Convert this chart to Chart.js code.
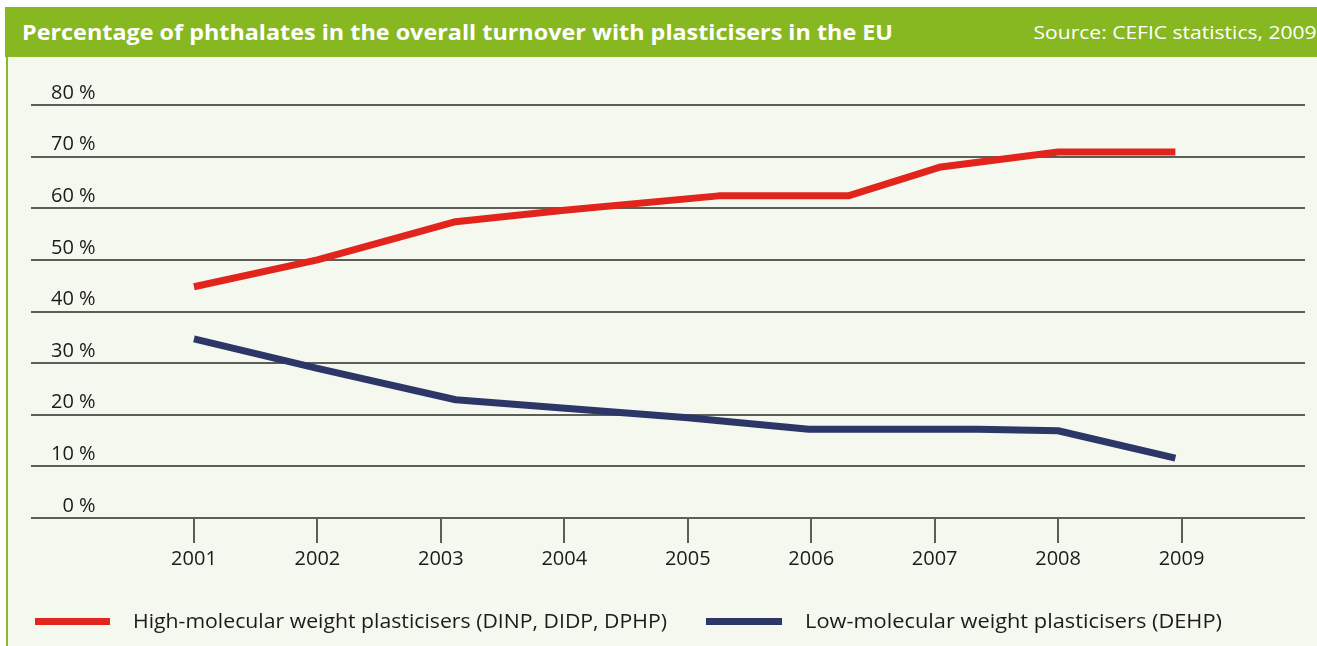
<!DOCTYPE html>
<html>
<head>
<meta charset="utf-8">
<script src="https://cdn.jsdelivr.net/npm/chart.js@4.4.1/dist/chart.umd.min.js"></script>
<style>
  body { margin: 0; background: #fff; width: 1317px; height: 646px; overflow: hidden; position: relative; font-family: "Open Sans", Lato, sans-serif; }
  .panel { position: absolute; left: 8px; top: 57px; right: 0; bottom: 0; background: #f5f8ef; }
  .edge { position: absolute; left: 6px; top: 57px; width: 2px; bottom: 0; background: #8ab929; }
  .header { position: absolute; left: 5px; top: 7px; right: 0; height: 50px; background: #87b822; color: #fff; }
  .header .title { position: absolute; left: 17px; top: 0; line-height: 50px; font-weight: bold; font-size: 21px; white-space: nowrap; transform-origin: left center; }
  .header .source { position: absolute; right: 0; top: 0; line-height: 50px; font-size: 19px; white-space: nowrap; transform-origin: right center; }
  #chart { position: absolute; left: 0; top: 0; }
  .legend { position: absolute; top: 606px; height: 30px; line-height: 30px; font-size: 20px; color: #1b1b1b; white-space: nowrap; }
  .legend .bar { position: absolute; top: 12px; height: 7px; }
  .legend .label { position: absolute; top: 0; transform-origin: left center; }
</style>
</head>
<body>
<div class="panel"></div>
<div class="edge"></div>
<div class="header">
  <div class="title fit" data-w="871">Percentage of phthalates in the overall turnover with plasticisers in the EU</div>
  <div class="source fit" data-w="283">Source: CEFIC statistics, 2009</div>
</div>
<canvas id="chart" width="1317" height="646"></canvas>
<div class="legend" style="left:0;width:1317px">
  <div class="bar" style="left:35px;width:75px;background:#e1251d"></div>
  <div class="label fit" data-w="534" style="left:133px">High-molecular weight plasticisers (DINP, DIDP, DPHP)</div>
  <div class="bar" style="left:706px;width:76px;background:#2c3667"></div>
  <div class="label fit" data-w="417" style="left:805px">Low-molecular weight plasticisers (DEHP)</div>
</div>
<script>
//
// Data
//

var tickYears = [2001, 2002, 2003, 2004, 2005, 2006, 2007, 2008, 2009];
var tickPercents = [0, 10, 20, 30, 40, 50, 60, 70, 80];

// High-molecular weight plasticisers (DINP, DIDP, DPHP)
var highYears = [2001, 2002, 2003.12, 2004, 2005.25, 2006.3, 2007.05, 2008, 2008.95];
var highShare = [44.8, 50, 57.4, 59.6, 62.4, 62.4, 68, 70.9, 70.9];

// Low-molecular weight plasticisers (DEHP)
var lowYears = [2001, 2002, 2003.12, 2005, 2005.98, 2007.35, 2008, 2008.95];
var lowShare = [34.7, 29.0, 22.9, 19.4, 17.2, 17.2, 16.9, 11.6];

var gridColor = "#5c5e58";
var textColor = "#1b1b1b";
var tickFont = { family: "Open Sans", size: 20 };

// squeeze/stretch header and legend texts to the widths of the original
document.querySelectorAll(".fit").forEach(function (el) {
  var w = el.getBoundingClientRect().width;
  el.style.transform = "scaleX(" + (+el.dataset.w / w) + ")";
});

function toPoints(xs, ys) {
  return xs.map(function (x, i) { return { x: x, y: ys[i] }; });
}

var ctx = document.getElementById("chart");

var chart = new Chart(ctx, {
  type: "line",
  data: {
    datasets: [
      {
        label: "High-molecular weight plasticisers (DINP, DIDP, DPHP)",
        data: toPoints(highYears, highShare),
        borderColor: "#e1251d",
        borderWidth: 7,
        borderCapStyle: "butt",
        borderJoinStyle: "round",
        pointRadius: 0,
        tension: 0
      },
      {
        label: "Low-molecular weight plasticisers (DEHP)",
        data: toPoints(lowYears, lowShare),
        borderColor: "#2c3667",
        borderWidth: 7,
        borderCapStyle: "butt",
        borderJoinStyle: "round",
        pointRadius: 0,
        tension: 0
      }
    ]
  },
  options: {
    responsive: false,
    animation: false,
    layout: { padding: { left: 31, right: 12, top: 105, bottom: 68 } },
    plugins: {
      legend: { display: false },
      tooltip: { enabled: false }
    },
    scales: {
      x: {
        type: "linear",
        min: 1999.68,
        max: 2010.0,
        afterBuildTicks: function (axis) {
          axis.ticks = tickYears.map(function (v) { return { value: v }; });
        },
        afterFit: function (axis) { axis.height = 60; },
        border: { display: false },
        grid: {
          drawOnChartArea: false,
          drawTicks: true,
          tickLength: 25,
          color: gridColor,
          lineWidth: 2
        },
        ticks: {
          padding: 4,
          color: textColor,
          font: tickFont,
          maxRotation: 0,
          callback: function (v) { return String(v); }
        }
      },
      y: {
        min: 0,
        max: 80,
        afterBuildTicks: function (axis) {
          axis.ticks = tickPercents.map(function (v) { return { value: v }; });
        },
        afterFit: function (axis) { axis.width = 0; },
        border: { display: false },
        grid: {
          drawTicks: false,
          color: gridColor,
          lineWidth: 2
        },
        ticks: {
          mirror: true,
          crossAlign: "far",
          padding: 20,
          labelOffset: -12,
          color: textColor,
          font: tickFont,
          callback: function (v) { return v + " %"; }
        }
      }
    }
  }
});
</script>
</body>
</html>
